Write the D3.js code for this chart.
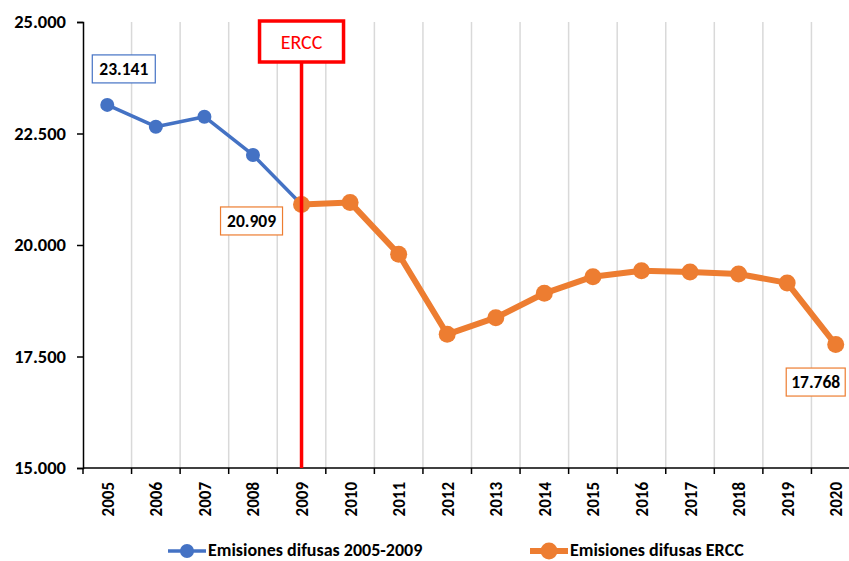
<!DOCTYPE html>
<html>
<head>
<meta charset="utf-8">
<script src="https://cdn.jsdelivr.net/npm/d3@7"></script>
<style>
  html, body { margin: 0; padding: 0; background: #fff; }
  svg { display: block; font-family: Carlito, Lato, "Open Sans", sans-serif; }
</style>
</head>
<body>
<svg id="chart" width="849" height="561"></svg>
<script>
// Years on the category axis
const years = ["2005","2006","2007","2008","2009","2010","2011","2012","2013","2014","2015","2016","2017","2018","2019","2020"];
// Diffuse emissions 2005-2009 (kt CO2-eq)
const yearsPre = ["2005","2006","2007","2008","2009"];
const valuesPre = [23141, 22653, 22877, 22018, 20909];
// Diffuse emissions under ERCC, 2009-2020
const yearsErcc = ["2009","2010","2011","2012","2013","2014","2015","2016","2017","2018","2019","2020"];
const valuesErcc = [20909, 20955, 19795, 17998, 18370, 18917, 19290, 19424, 19395, 19350, 19150, 17768];
// Value axis ticks
const yTicks = [15000, 17500, 20000, 22500, 25000];
// Legend entries
const legendLabels = ["Emisiones difusas 2005-2009", "Emisiones difusas ERCC"];

const blue = "#4472C4", orange = "#ED7D31", red = "#FF0000";
const locale = d3.formatLocale({ decimal: ",", thousands: ".", grouping: [3], currency: ["", "€"] });
const fmt = locale.format(",.0f");

const svg = d3.select("#chart");
const plotLeft = 83, plotRight = 860, plotTop = 22, plotBottom = 468;

const x = d3.scaleBand().domain(years).range([plotLeft, plotRight]).paddingInner(0).paddingOuter(0);
const y = d3.scaleLinear().domain([15000, 25000]).range([plotBottom, plotTop]);
const cx = d => x(d) + x.bandwidth() / 2;

// Vertical gridlines at category boundaries
svg.append("g").selectAll("line")
  .data(years.slice(1).map(d => x(d)).concat([plotRight]))
  .join("line")
  .attr("x1", d => d).attr("x2", d => d)
  .attr("y1", plotTop).attr("y2", plotBottom)
  .attr("stroke", "#d9d9d9").attr("stroke-width", 1.5);

// Y axis
const yAxis = svg.append("g").attr("transform", `translate(${plotLeft},0)`)
  .call(d3.axisLeft(y).tickValues(yTicks).tickFormat(fmt).tickSize(6).tickPadding(11));
yAxis.select(".domain").attr("stroke", "#000").attr("stroke-width", 1.5);
yAxis.selectAll(".tick line").attr("stroke", "#000").attr("stroke-width", 1.5);
yAxis.selectAll("text").attr("font-size", 18.5).attr("font-weight", "bold").attr("fill", "#000")
  .attr("font-family", "Carlito, Lato, sans-serif");

// X axis with ticks at the category boundaries
const xAxis = svg.append("g").attr("transform", `translate(0,${plotBottom})`);
xAxis.append("line").attr("x1", plotLeft).attr("x2", plotRight).attr("y1", 0).attr("y2", 0)
  .attr("stroke", "#000").attr("stroke-width", 1.5);
xAxis.selectAll("line.tk")
  .data(years.map(d => x(d)).concat([plotRight]))
  .join("line").attr("class", "tk")
  .attr("x1", d => d).attr("x2", d => d).attr("y1", 0).attr("y2", 6)
  .attr("stroke", "#000").attr("stroke-width", 1.5);
xAxis.selectAll("text")
  .data(years).join("text")
  .attr("transform", d => `translate(${cx(d) + 6.5},${14}) rotate(-90)`)
  .attr("text-anchor", "end")
  .attr("font-size", 17).attr("font-weight", "bold").attr("fill", "#000")
  .text(d => d);

const line = d3.line().x(d => cx(d[0])).y(d => y(d[1]));
const pre = yearsPre.map((d, i) => [d, valuesPre[i]]);
const ercc = yearsErcc.map((d, i) => [d, valuesErcc[i]]);

// 2005-2009 series
svg.append("path").datum(pre).attr("d", line)
  .attr("fill", "none").attr("stroke", blue).attr("stroke-width", 3.5).attr("stroke-linejoin", "round");
svg.append("g").selectAll("circle").data(pre).join("circle")
  .attr("cx", d => cx(d[0])).attr("cy", d => y(d[1])).attr("r", 7).attr("fill", blue);

// ERCC series
svg.append("path").datum(ercc).attr("d", line)
  .attr("fill", "none").attr("stroke", orange).attr("stroke-width", 6).attr("stroke-linejoin", "round");
svg.append("g").selectAll("circle").data(ercc).join("circle")
  .attr("cx", d => cx(d[0])).attr("cy", d => y(d[1])).attr("r", 8.5).attr("fill", orange);

// ERCC marker line and label box
const xE = cx("2009");
svg.append("line").attr("x1", xE).attr("x2", xE).attr("y1", 62).attr("y2", plotBottom)
  .attr("stroke", red).attr("stroke-width", 3.5);
svg.append("rect").attr("x", xE - 42).attr("y", 21).attr("width", 84).attr("height", 41)
  .attr("fill", "#fff").attr("stroke", red).attr("stroke-width", 3.5);
svg.append("text").attr("x", xE).attr("y", 49).attr("text-anchor", "middle")
  .attr("font-size", 20).attr("font-weight", 500).attr("fill", red).text("ERCC");

// Data labels
function valueLabel(xc, yc, w, v, color) {
  svg.append("rect").attr("x", xc - w / 2).attr("y", yc - 14).attr("width", w).attr("height", 28)
    .attr("fill", "#fff").attr("stroke", color).attr("stroke-width", 1.2);
  svg.append("text").attr("x", xc).attr("y", yc + 6).attr("text-anchor", "middle")
    .attr("font-size", 17.5).attr("font-weight", "bold").attr("fill", "#000").text(fmt(v));
}
valueLabel(cx("2005") + 16.5, y(valuesPre[0]) - 36, 63, valuesPre[0], blue);
valueLabel(cx("2009") - 50, y(valuesErcc[0]) + 16.5, 62, valuesErcc[0], orange);
valueLabel(cx("2020") - 20, y(valuesErcc[valuesErcc.length - 1]) + 37.5, 59, valuesErcc[valuesErcc.length - 1], orange);

// Legend
const legend = [
  { label: legendLabels[0], color: blue, x0: 168, w: 3.5, r: 7 },
  { label: legendLabels[1], color: orange, x0: 530, w: 6, r: 8.5 }
];
const lg = svg.append("g").selectAll("g").data(legend).join("g")
  .attr("transform", d => `translate(${d.x0},551)`);
lg.append("line").attr("x1", 0).attr("x2", 38).attr("stroke", d => d.color).attr("stroke-width", d => d.w);
lg.append("circle").attr("cx", 19).attr("r", d => d.r).attr("fill", d => d.color);
lg.append("text").attr("x", 40).attr("y", 5)
  .attr("font-size", 18).attr("font-weight", "bold").attr("fill", "#000").text(d => d.label);
</script>
</body>
</html>
